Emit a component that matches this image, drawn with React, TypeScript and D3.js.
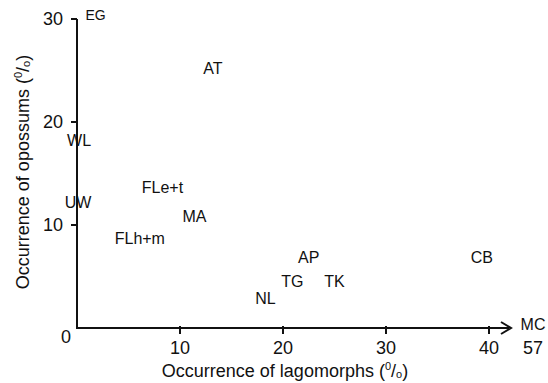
import React from "react";
import * as d3 from "d3";

const sites = ["EG", "AT", "WL", "UW", "FLe+t", "MA", "FLh+m", "NL", "TG", "TK", "AP", "CB"];
const lagomorphs = [1.8, 13.2, 0.2, 0.1, 8.3, 11.4, 6.1, 18.3, 20.9, 25.0, 22.5, 39.3];
const opossums = [30.4, 25.2, 18.2, 12.2, 13.6, 10.8, 8.7, 2.9, 4.5, 4.5, 6.8, 6.8];
const xTicks = [10, 20, 30, 40];
const yTicks = [10, 20, 30];
const offChartLabel = "MC";
const offChartValue = "57";

const W = 548;
const H = 383;
const FONT = "'Liberation Sans', Arial, Helvetica, sans-serif";
const INK = "#111";

export default function App() {
  const x = d3.scaleLinear().domain([0, 40]).range([77, 489]);
  const y = d3.scaleLinear().domain([0, 30]).range([328, 19]);
  const x0 = x(0);
  const y0 = y(0);
  const arrowEnd = 511;

  return (
    <svg width={W} height={H} style={{ position: "absolute", left: 0, top: 0, background: "#fff" }}
      fontFamily={FONT} fill={INK}>
      {/* axes */}
      <line x1={x0} y1={y0 + 1} x2={x0} y2={y(30)} stroke={INK} strokeWidth={2} />
      <line x1={x0 - 1} y1={y0} x2={arrowEnd - 2} y2={y0} stroke={INK} strokeWidth={2} />
      <path d={`M${arrowEnd - 10},${y0 - 6} L${arrowEnd},${y0} L${arrowEnd - 10},${y0 + 6}`}
        fill="none" stroke={INK} strokeWidth={2} />
      {/* y ticks */}
      {yTicks.map((t) => (
        <g key={"y" + t}>
          <line x1={x0 - 6} x2={x0} y1={y(t)} y2={y(t)} stroke={INK} strokeWidth={2} />
          <text x={x0 - 14} y={y(t)} textAnchor="end" dominantBaseline="central" fontSize={18}>{t}</text>
        </g>
      ))}
      <text x={66} y={337} textAnchor="middle" dominantBaseline="central" fontSize={18}>0</text>
      {/* x ticks */}
      {xTicks.map((t) => (
        <g key={"x" + t}>
          <line x1={x(t)} x2={x(t)} y1={y0 - 2} y2={y0 + 6} stroke={INK} strokeWidth={2} />
          <text x={x(t)} y={348} textAnchor="middle" dominantBaseline="central" fontSize={18}>{t}</text>
        </g>
      ))}
      <text x={533} y={324} textAnchor="middle" dominantBaseline="central" fontSize={16}>{offChartLabel}</text>
      <text x={533} y={348} textAnchor="middle" dominantBaseline="central" fontSize={18}>{offChartValue}</text>
      {/* point labels */}
      {sites.map((s, i) => (
        <text key={s} x={x(lagomorphs[i])} y={y(opossums[i])} textAnchor="middle"
          dominantBaseline="central" fontSize={i === 0 ? 14 : 16}>{s}</text>
      ))}
      {/* axis titles */}
      <text x={285} y={371} textAnchor="middle" dominantBaseline="central" fontSize={18}>
        Occurrence of lagomorphs (<tspan fontSize={11} dy={-5}>0</tspan>
        <tspan fontSize={18} dy={5}>/</tspan>
        <tspan fontSize={11} dy={3}>o</tspan>
        <tspan fontSize={18} dy={-3}>)</tspan>
      </text>
      <text transform={`translate(23,172) rotate(-90)`} textAnchor="middle" dominantBaseline="central" fontSize={18}>
        Occurrence of opossums (<tspan fontSize={11} dy={-5}>0</tspan>
        <tspan fontSize={18} dy={5}>/</tspan>
        <tspan fontSize={11} dy={3}>o</tspan>
        <tspan fontSize={18} dy={-3}>)</tspan>
      </text>
    </svg>
  );
}
